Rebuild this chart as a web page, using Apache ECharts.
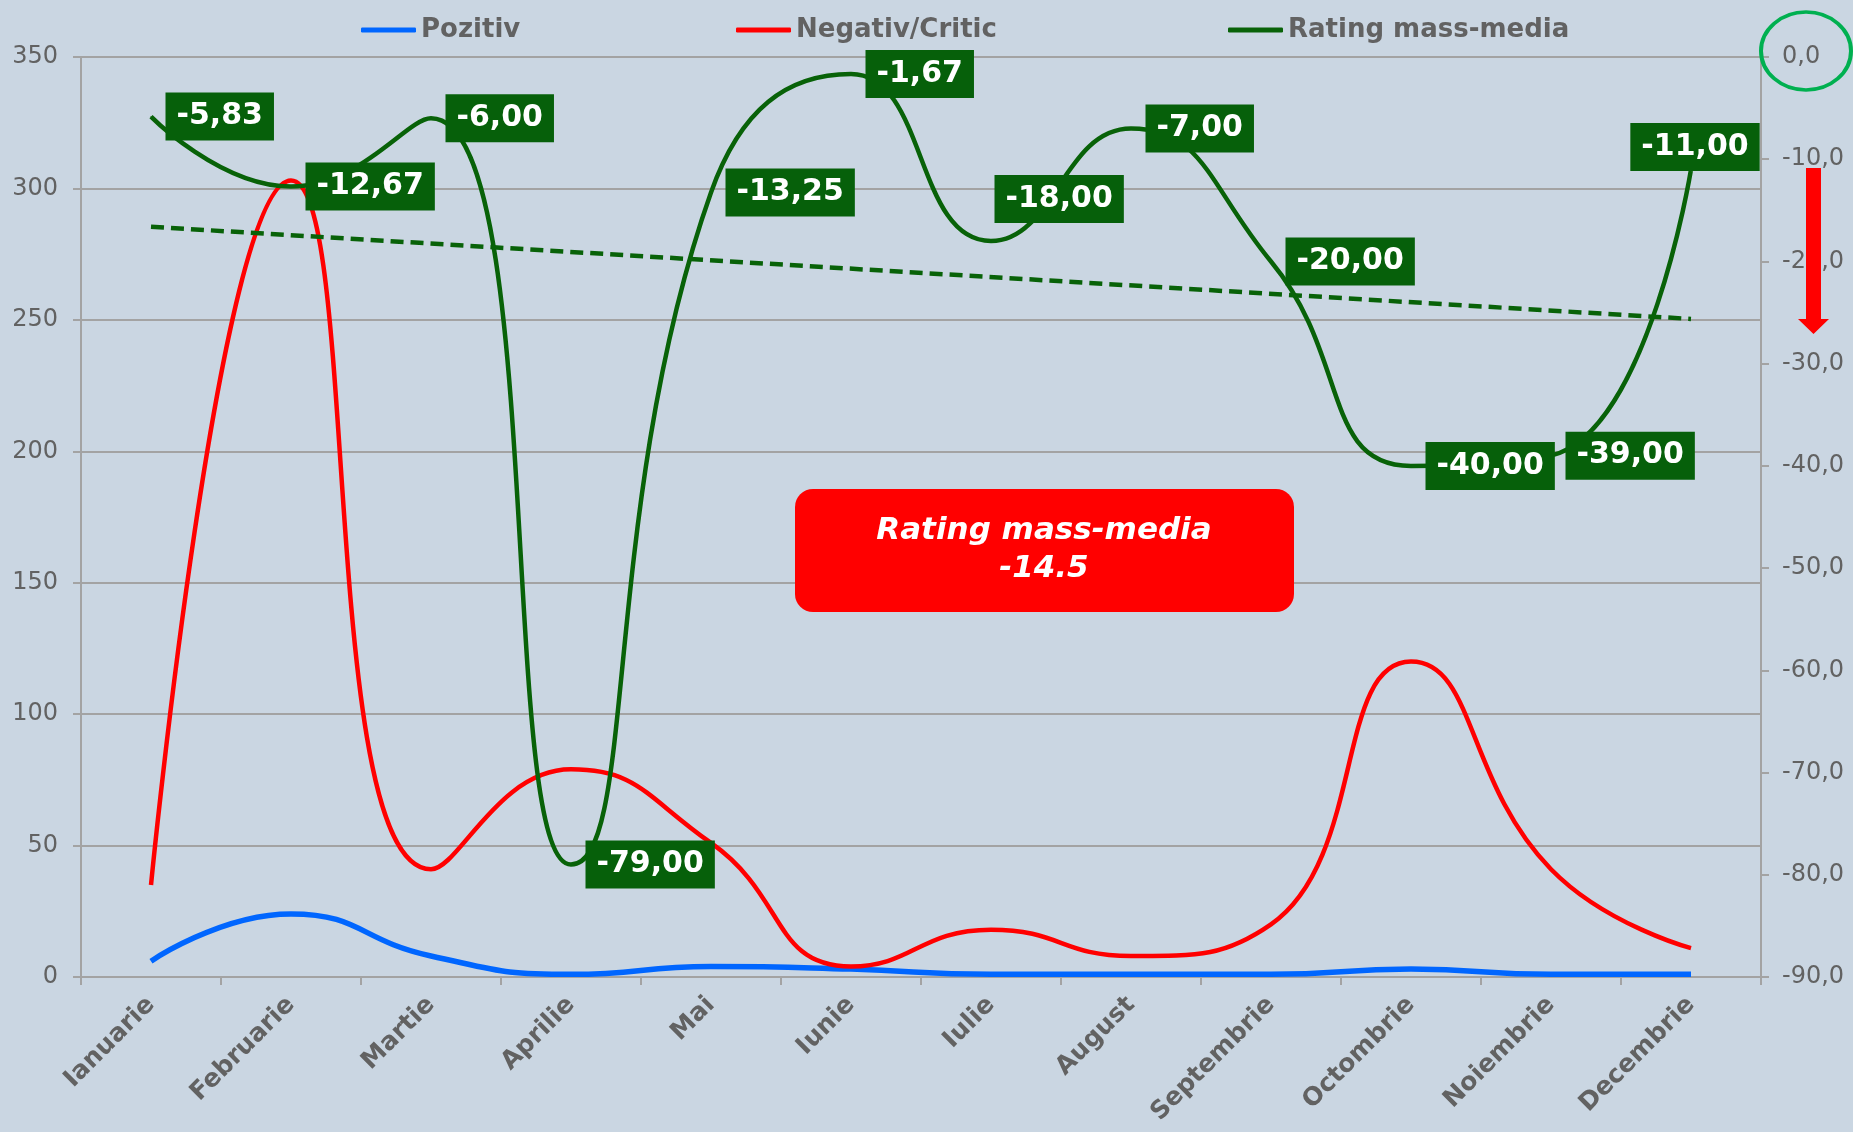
<!DOCTYPE html>
<html><head><meta charset="utf-8">
<style>html,body{margin:0;padding:0;background:#cad6e2}#c{width:1853px;height:1132px}</style>
<script src="https://cdn.jsdelivr.net/npm/echarts@6/dist/echarts.min.js"></script>
</head><body><div id="c"></div>
<script>
const categories = ['Ianuarie','Februarie','Martie','Aprilie','Mai','Iunie','Iulie','August','Septembrie','Octombrie','Noiembrie','Decembrie'];
const pozitiv = [6, 24, 8, 1, 4, 3, 1, 1, 1, 3, 1, 1];
const negativ = [35, 303, 41, 79, 51, 4, 18, 8, 20, 120, 41, 11];
const rating = [-5.83, -12.67, -6.00, -79.00, -13.25, -1.67, -18.00, -7.00, -20.00, -40.00, -39.00, -11.00];
const leftTicks = {min: 0, max: 350, interval: 50};
const rightTicks = {min: -90, max: 0, interval: 10};
const boxTitle = 'Rating mass-media';
const boxValue = '-14.5';

const FONT = 'DejaVu Sans';
const GREEN = '#086208';
const LABELBG = '#06600a';
const GRAY = '#a3a3a3';
const TXT = '#626262';

// least-squares trend of rating
const n = rating.length;
let sx=0, sy=0, sxy=0, sxx=0;
rating.forEach((v,i)=>{sx+=i; sy+=v; sxy+=i*v; sxx+=i*i;});
const slope = (n*sxy - sx*sy)/(n*sxx - sx*sx);
const icpt = (sy - slope*sx)/n;

const labelOverrides = {6: {position:'right', offset:[-11,-42]}, 11: {position:'top', distance:-2, offset:[4,0]}};
const ratingData = rating.map((v,i)=> labelOverrides[i] ? {value:v, label:labelOverrides[i]} : v);

const chart = echarts.init(document.getElementById('c'), null, {renderer:'canvas'});
const legendText = {fontFamily:FONT, fontSize:26, fontWeight:'bold', color:TXT};
function leg(name, left){
  return {data:[name], left:left, top:12, icon:'roundRect', itemWidth:55, itemHeight:5, itemGap:0, textStyle:legendText, selectedMode:false};
}
chart.setOption({
  backgroundColor:'#cad6e2',
  animation:false,
  textStyle:{fontFamily:FONT},
  grid:{left:81, right:92, top:57, bottom:155, containLabel:false},
  legend:[leg('Pozitiv',356), leg('Negativ/Critic',731), leg('Rating mass-media',1223)],
  xAxis:{
    type:'category', data:categories, boundaryGap:true,
    axisLine:{lineStyle:{color:GRAY, width:2}},
    axisTick:{show:true, length:8, lineStyle:{color:GRAY, width:2}},
    axisLabel:{rotate:45, interval:0, fontSize:25, fontWeight:'bold', color:TXT, margin:24, fontFamily:FONT}
  },
  yAxis:[
    {type:'value', min:leftTicks.min, max:leftTicks.max, interval:leftTicks.interval,
     axisLine:{show:true, lineStyle:{color:GRAY, width:2}},
     axisTick:{show:true, length:8, lineStyle:{color:GRAY, width:2}},
     splitLine:{lineStyle:{color:GRAY, width:2}},
     axisLabel:{fontSize:24, color:TXT, margin:23, fontFamily:FONT}},
    {type:'value', position:'right', min:rightTicks.min, max:rightTicks.max, interval:rightTicks.interval,
     axisLine:{show:true, lineStyle:{color:GRAY, width:2}},
     axisTick:{show:true, length:8, lineStyle:{color:GRAY, width:2}},
     splitLine:{show:false},
     axisLabel:{fontSize:24, color:TXT, margin:21, fontFamily:FONT, formatter:v=>v.toFixed(1).replace('.',',')}}
  ],
  series:[
    {name:'Pozitiv', type:'line', data:pozitiv, yAxisIndex:0, smooth:0.5, symbol:'none',
     lineStyle:{color:'#0066ff', width:5.5}, itemStyle:{color:'#0066ff'}},
    {name:'Negativ/Critic', type:'line', data:negativ, yAxisIndex:0, smooth:0.5, symbol:'none',
     lineStyle:{color:'#ff0000', width:4.5}, itemStyle:{color:'#ff0000'}},
    {name:'Rating mass-media', type:'line', data:ratingData, yAxisIndex:1, smooth:0.5,
     symbol:'circle', symbolSize:1, showSymbol:true,
     lineStyle:{color:GREEN, width:4.5}, itemStyle:{color:GREEN},
     label:{show:true, position:'right', distance:14, backgroundColor:LABELBG, color:'#fff',
       fontSize:30, fontWeight:'bold', fontFamily:FONT, lineHeight:33, padding:[8,11,7,11],
       formatter:p=>Number(p.value).toFixed(2).replace('.',',')},
     markLine:{silent:true, symbol:['none','none'], label:{show:false},
       lineStyle:{color:GREEN, type:[13,7], width:4.5},
       data:[[{coord:[categories[0], icpt]}, {coord:[categories[n-1], icpt+slope*(n-1)]}]]},
     z:3}
  ],
  graphic:[
    {type:'rect', shape:{x:795, y:489, width:499, height:123, r:18}, style:{fill:'#ff0000'}, z:10},
    {type:'text', x:1044, y:550, z:11, style:{text:boxTitle+'\n'+boxValue, fill:'#ffffff', fontSize:31, fontWeight:'bold', fontStyle:'italic', fontFamily:FONT, align:'center', verticalAlign:'middle', lineHeight:38}},
    {type:'circle', x:1806, y:51, scaleY:39/45, shape:{cx:0, cy:0, r:45}, style:{fill:'none', stroke:'#00b050', lineWidth:4}, z:10},
    {type:'polygon', shape:{points:[[1806,168],[1821,168],[1821,319],[1829,319],[1813.5,334],[1798,319],[1806,319]]}, style:{fill:'#ff0000'}, z:10}
  ]
});
</script></body></html>
